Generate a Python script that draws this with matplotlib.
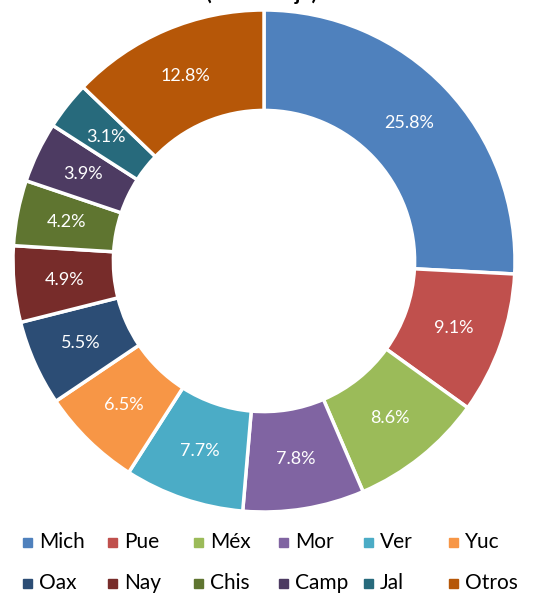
import matplotlib
matplotlib.use("Agg")
import matplotlib.pyplot as plt
from matplotlib.patches import Rectangle

labels = ["Mich", "Pue", "Méx", "Mor", "Ver", "Yuc", "Oax", "Nay", "Chis", "Camp", "Jal", "Otros"]
values = [25.8, 9.1, 8.6, 7.8, 7.7, 6.5, 5.5, 4.9, 4.2, 3.9, 3.1, 12.8]
colors = ["#4F81BD", "#C0504D", "#9BBB59", "#8064A2", "#4BACC6", "#F79646",
          "#2C4D75", "#772C2A", "#5F7530", "#4D3B62", "#276A7C", "#B65708"]

W, H = 544, 597
plt.rcParams['font.family'] = ['Lato', 'DejaVu Sans']
fig = plt.figure(figsize=(W / 100, H / 100), dpi=100)

cx, cy, R = 264, 261, 251
ax = fig.add_axes([(cx - R) / W, (H - cy - R) / H, 2 * R / W, 2 * R / H])
wedges, texts, autotexts = ax.pie(
    values, colors=colors, startangle=90, counterclock=False, radius=1,
    wedgeprops=dict(width=0.4, edgecolor="white", linewidth=2.5),
    autopct=lambda p: f"{p:.1f}%", pctdistance=0.8,
    textprops=dict(color="white", fontsize=13))
ax.set_xlim(-1, 1)
ax.set_ylim(-1, 1)
ax.set_aspect("equal")
ax.axis("off")

fig.text(261 / W, 1 + 0.5 / H, "(Porcentaje)", ha="center", va="baseline",
         fontsize=15, fontweight="bold")

col_x = [23, 108, 194, 279, 364, 449]
row_y = [542, 583]
for i, (lab, col) in enumerate(zip(labels, colors)):
    r, c = divmod(i, 6)
    x = col_x[c]
    y = row_y[r]
    fig.patches.append(Rectangle((x / W, (H - y - 4.5) / H), 9 / W, 9 / H,
                                 transform=fig.transFigure, color=col))
    fig.text((x + 16) / W, (H - y) / H, lab, ha="left", va="center", fontsize=15)

fig.savefig("out.png", dpi=100)
